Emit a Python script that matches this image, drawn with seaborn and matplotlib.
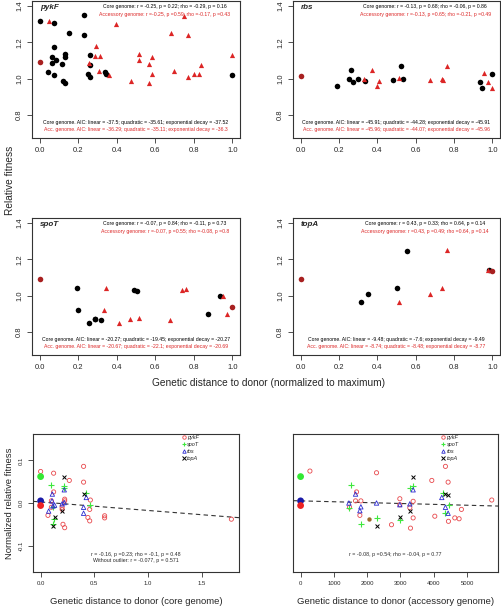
import numpy as np
import pandas as pd
import seaborn as sns
import matplotlib.pyplot as plt
from matplotlib.lines import Line2D

sns.set_style("white")
plt.rcParams['font.family'] = ['Liberation Sans', 'DejaVu Sans']
plt.rcParams['axes.unicode_minus'] = False

# ---- top panels: relative fitness vs normalized distance ----
pykf_core_x = [0.0, 0.073, 0.228, 0.154, 0.228, 0.073, 0.130, 0.130, 0.066, 0.083, 0.062, 0.118,
               0.263, 0.259, 0.045, 0.073, 0.252, 0.259, 0.340, 0.346, 0.121, 0.130, 1.0]
pykf_core_y = [1.317, 1.306, 1.352, 1.254, 1.238, 1.173, 1.138, 1.120, 1.120, 1.102, 1.084, 1.080,
               1.129, 1.073, 1.038, 1.018, 1.027, 1.009, 1.038, 1.027, 0.987, 0.975, 1.020]
pykf_acc_x = [0.048, 0.394, 0.290, 0.287, 0.314, 0.256, 0.307, 0.359, 0.475, 0.518, 0.518, 0.584,
              0.570, 0.584, 0.570, 0.684, 0.751, 0.769, 0.699, 0.769, 0.800, 0.825, 0.838, 1.0]
pykf_acc_y = [1.320, 1.302, 1.177, 1.123, 1.123, 1.088, 1.043, 1.020, 0.989, 1.138, 1.102, 1.120,
              1.080, 1.027, 0.973, 1.250, 1.347, 1.240, 1.039, 1.009, 1.027, 1.023, 1.075, 1.130]
pykf_both_x = [0.0]
pykf_both_y = [1.093]

rbs_core_x = [0.187, 0.260, 0.251, 0.272, 0.298, 0.336, 0.480, 0.523, 0.534, 0.936, 0.946, 1.0]
rbs_core_y = [0.957, 1.045, 1.000, 0.980, 1.000, 0.989, 0.993, 1.070, 1.000, 0.980, 0.946, 1.027]
rbs_acc_x = [0.333, 0.373, 0.407, 0.400, 0.513, 0.676, 0.738, 0.742, 0.761, 0.958, 0.977, 1.0]
rbs_acc_y = [1.000, 1.048, 0.984, 0.961, 1.002, 0.991, 1.000, 0.993, 1.071, 1.029, 0.980, 0.950]
rbs_both_x = [0.0]
rbs_both_y = [1.012]

spot_core_x = [0.195, 0.197, 0.257, 0.285, 0.285, 0.317, 0.489, 0.503, 0.935, 0.875]
spot_core_y = [1.042, 0.922, 0.846, 0.873, 0.868, 0.863, 1.033, 1.027, 0.995, 0.897]
spot_acc_x = [0.345, 0.333, 0.412, 0.468, 0.513, 0.674, 0.741, 0.760, 0.952, 0.974]
spot_acc_y = [1.042, 0.922, 0.846, 0.872, 0.877, 0.864, 1.029, 1.034, 0.996, 0.899]
spot_both_x = [0.0, 1.0]
spot_both_y = [1.092, 0.937]

topa_core_x = [0.315, 0.353, 0.503, 0.553, 0.984]
topa_core_y = [0.962, 1.011, 1.042, 1.248, 1.143]
topa_acc_x = [0.515, 0.676, 0.738, 0.761, 0.975]
topa_acc_y = [0.966, 1.011, 1.042, 1.250, 1.143]
topa_both_x = [0.0, 1.0]
topa_both_y = [1.089, 1.134]

genes = ["pykF", "rbs", "spoT", "topA"]
core_lines = ["Core genome: r = -0.25, p = 0.22; rho = -0.29, p = 0.16",
              "Core genome: r = -0.13, p = 0.68; rho = -0.06, p = 0.86",
              "Core genome: r = -0.07, p = 0.84; rho = -0.11, p = 0.73",
              "Core genome: r = 0.43, p = 0.33; rho = 0.64, p = 0.14"]
acc_lines = ["Accessory genome: r =-0.25, p =0.59; rho =-0.17, p =0.43",
             "Accessory genome: r =-0.13, p =0.65; rho =-0.21, p =0.49",
             "Accessory genome: r =-0.07, p =0.55; rho =-0.08, p =0.8",
             "Accessory genome: r =0.43, p =0.49; rho =0.64, p =0.14"]
core_aic = ["Core genome. AIC: linear = -37.5; quadratic = -35.61; exponential decay = -37.52",
            "Core genome. AIC: linear = -45.91; quadratic = -44.28; exponential decay = -45.91",
            "Core genome. AIC: linear = -20.27; quadratic = -19.45; exponential decay = -20.27",
            "Core genome. AIC: linear = -9.48; quadratic = -7.6; exponential decay = -9.49"]
acc_aic = ["Acc. genome. AIC: linear = -36.29; quadratic = -35.11; exponential decay = -36.3",
           "Acc. genome. AIC: linear = -45.96; quadratic = -44.07; exponential decay = -45.96",
           "Acc. genome. AIC: linear = -20.67; quadratic = -22.1; exponential decay = -20.69",
           "Acc. genome. AIC: linear = -8.74; quadratic = -8.48; exponential decay = -8.77"]

# ---- bottom panels: normalized fitness vs raw distance ----
pykf_cg_x = [0.0, 0.121, 0.40, 0.40, 0.267, 0.121, 0.463, 0.224, 0.224, 0.457, 0.068, 0.10, 0.20,
             0.20, 0.44, 0.457, 0.596, 0.596, 0.208, 0.224, 1.776, 0.10]
pykf_cg_y = [0.074, 0.070, 0.086, 0.049, 0.053, 0.026, 0.007, 0.009, 0.005, -0.015, -0.029, -0.010,
             -0.010, -0.015, -0.034, -0.042, -0.030, -0.035, -0.050, -0.058, -0.038, 0.005]
spot_cg_x = [0.10, 0.22, 0.22, 0.425, 0.457, 0.115, 0.121, 0.115]
spot_cg_y = [0.042, 0.039, 0.035, 0.023, -0.005, -0.009, -0.037, -0.050]
rbs_cg_x = [0.109, 0.22, 0.425, 0.40, 0.40, 0.075, 0.106, 0.13, 0.20, 0.22, 0.115]
rbs_cg_y = [0.021, 0.031, 0.013, -0.010, -0.024, -0.019, 0.005, -0.005, -0.002, 0.001, -0.007]
topa_cg_x = [0.22, 0.40, 0.13, 0.115, 0.199]
topa_cg_y = [0.061, 0.021, -0.034, -0.053, -0.018]

pykf_ag_x = [280, 2280, 4350, 3940, 4430, 1680, 1650, 1810, 2980, 3380, 2980, 3280, 5740, 4830,
             1470, 1780, 3380, 4030, 4630, 4760, 4440, 2730, 3300]
pykf_ag_y = [0.075, 0.071, 0.086, 0.053, 0.049, 0.026, 0.005, 0.005, 0.010, 0.004, -0.004, -0.011,
             0.007, -0.015, -0.010, -0.029, -0.035, -0.031, -0.035, -0.037, -0.043, -0.051, -0.059]
spot_ag_x = [1510, 3300, 3380, 4280, 4450, 1450, 4350, 2280, 2980, 1810]
spot_ag_y = [0.042, 0.036, 0.039, 0.023, -0.004, -0.012, -0.024, -0.035, -0.040, -0.049]
rbs_ag_x = [1650, 3380, 4240, 1450, 2280, 2980, 3280, 1810, 1780, 4350, 4430]
rbs_ag_y = [0.021, 0.031, 0.013, 0.000, 0.000, -0.004, -0.002, -0.009, -0.018, -0.010, -0.024]
topa_ag_x = [3380, 4350, 4430, 3280, 2980, 2280]
topa_ag_y = [0.061, 0.021, 0.018, -0.018, -0.032, -0.054]
mixed_ag_x = [2060]
mixed_ag_y = [-0.038]

ref_y = [0.062, 0.005, -0.006]          # reference strains at distance 0 (spoT, rbs, pykF)
ref_colors = ["#33e833", "#1a1aa8", "#ee2222"]

core_fit = (0.0025, -0.020)      # intercept, slope
acc_fit = (0.0050, -2.05e-6)

RED = "#dc2626"
DARKRED = "#a82020"
W, H = 501, 607

fig = plt.figure(figsize=(W / 100, H / 100), dpi=100)


def add_ax(x0, y0, x1, y1):
    return fig.add_axes([x0 / W, 1 - y1 / H, (x1 - x0) / W, (y1 - y0) / H])


def style(ax, size):
    for s in ax.spines.values():
        s.set_color("#333333")
        s.set_linewidth(0.8)
    ax.tick_params(direction="out", length=3.5, width=0.6, color="#333333",
                   labelsize=size, pad=3, left=True, bottom=True)
    for lab in ax.get_yticklabels():
        lab.set_rotation(90)
        lab.set_va("center")


top_boxes = [(32, 1, 240, 138), (293, 1, 500, 138), (32, 218, 240, 355), (293, 218, 500, 355)]
top_data = [(pykf_core_x, pykf_core_y, pykf_acc_x, pykf_acc_y, pykf_both_x, pykf_both_y),
            (rbs_core_x, rbs_core_y, rbs_acc_x, rbs_acc_y, rbs_both_x, rbs_both_y),
            (spot_core_x, spot_core_y, spot_acc_x, spot_acc_y, spot_both_x, spot_both_y),
            (topa_core_x, topa_core_y, topa_acc_x, topa_acc_y, topa_both_x, topa_both_y)]

for i, gene in enumerate(genes):
    ax = add_ax(*top_boxes[i])
    cx, cy, axx, ay, bx, by = top_data[i]
    sns.scatterplot(x=cx, y=cy, ax=ax, color="black", marker="o", s=16, linewidth=0)
    sns.scatterplot(x=axx, y=ay, ax=ax, color=RED, marker="^", s=14, linewidth=0)
    sns.scatterplot(x=bx, y=by, ax=ax, color=DARKRED, marker="o", s=16, linewidth=0)
    ax.set_xlim(-0.04, 1.04)
    ax.set_ylim(0.672, 1.428)
    ax.set_xticks([0, 0.2, 0.4, 0.6, 0.8, 1.0])
    ax.set_xticklabels(["0.0", "0.2", "0.4", "0.6", "0.8", "1.0"])
    ax.set_yticks([0.8, 1.0, 1.2, 1.4])
    ax.set_yticklabels(["0.8", "1.0", "1.2", "1.4"])
    style(ax, 5.5)
    ax.text(0.0, 1.392, gene, fontsize=5.8, fontweight="bold", style="italic", va="center")
    ax.text(0.65, 1.395, core_lines[i], fontsize=3.7, ha="center", va="center", color="black")
    ax.text(0.65, 1.352, acc_lines[i], fontsize=3.7, ha="center", va="center", color=RED)
    ax.text(0.5, 0.758, core_aic[i], fontsize=3.7, ha="center", va="center", color="black")
    ax.text(0.5, 0.72, acc_aic[i], fontsize=3.7, ha="center", va="center", color=RED)

fig.text(10 / W, 1 - 180 / H, "Relative fitness", rotation=90, fontsize=7.3, ha="center", va="center")
fig.text(268 / W, 1 - 383 / H, "Genetic distance to donor (normalized to maximum)", fontsize=7.3,
         ha="center", va="center")

# ---- bottom panels ----
bottom = [
    (add_ax(33, 434, 239, 572), (pykf_cg_x, pykf_cg_y), (spot_cg_x, spot_cg_y), (rbs_cg_x, rbs_cg_y),
     (topa_cg_x, topa_cg_y), core_fit, (-0.071, 1.847), [0, 0.5, 1.0, 1.5], ["0.0", "0.5", "1.0", "1.5"]),
    (add_ax(293, 434, 498, 572), (pykf_ag_x, pykf_ag_y), (spot_ag_x, spot_ag_y), (rbs_ag_x, rbs_ag_y),
     (topa_ag_x, topa_ag_y), acc_fit, (-228, 5928), [0, 1000, 2000, 3000, 4000, 5000],
     ["0", "1000", "2000", "3000", "4000", "5000"]),
]

for j, (ax, pk, sp, rb, tp, fit, xl, xt, xtl) in enumerate(bottom):
    b0, b1 = fit
    xs = np.array(xl)
    ax.plot(xs, b0 + b1 * xs, color="#333333", lw=0.8, ls=(0, (4, 3)), zorder=1)
    sns.scatterplot(x=pk[0], y=pk[1], ax=ax, marker="o", s=9, facecolors="none",
                    edgecolors="#e8484c", linewidth=0.6, zorder=3)
    sns.scatterplot(x=sp[0], y=sp[1], ax=ax, marker="+", s=14, color="#3ee83e", linewidth=0.8, zorder=3)
    sns.scatterplot(x=rb[0], y=rb[1], ax=ax, marker="^", s=10, facecolors="none",
                    edgecolors="#2a2ad0", linewidth=0.6, zorder=3)
    sns.scatterplot(x=tp[0], y=tp[1], ax=ax, marker="x", s=8, color="black", linewidth=0.7, zorder=3)
    sns.scatterplot(x=[0, 0, 0], y=ref_y, ax=ax, hue=[0, 1, 2], palette=ref_colors, s=24,
                    linewidth=0, legend=False, zorder=4)
    if j == 1:
        sns.scatterplot(x=mixed_ag_x, y=mixed_ag_y, ax=ax, color="#9c6a2a", s=10, linewidth=0, zorder=4)
    ax.set_xlim(*xl)
    ax.set_ylim(-0.162, 0.162)
    ax.set_xticks(xt)
    ax.set_xticklabels(xtl)
    if j == 0:
        ax.set_yticks([-0.1, 0.0, 0.1])
        ax.set_yticklabels(["-0.1", "0.0", "0.1"])
    else:
        ax.set_yticks([])
    style(ax, 4.3)
    if j == 1:
        ax.tick_params(left=False)
    handles = [
        Line2D([], [], ls="", marker="o", mfc="none", mec="#e8484c", ms=2.5, mew=0.6),
        Line2D([], [], ls="", marker="+", color="#3ee83e", ms=3, mew=0.8),
        Line2D([], [], ls="", marker="^", mfc="none", mec="#2a2ad0", ms=2.5, mew=0.6),
        Line2D([], [], ls="", marker="x", color="black", ms=2.5, mew=0.7),
    ]
    ax.legend(handles, ["pykF", "spoT", "rbs", "topA"], loc="upper left", bbox_to_anchor=(0.7, 1.02),
              frameon=False, prop={"size": 4, "style": "italic"}, handletextpad=0.1,
              labelspacing=0.35, borderpad=0.2, handlelength=1.0)

bottom[0][0].text(0.885, -0.12, "r = -0.16, p =0.23; rho = -0.1, p = 0.48", fontsize=3.8, ha="center",
                  va="center")
bottom[0][0].text(0.885, -0.134, "Without outlier: r = -0.077, p = 0.571", fontsize=3.8, ha="center",
                  va="center")
bottom[1][0].text(2850, -0.12, "r = -0.08, p =0.54; rho = -0.04, p = 0.77", fontsize=3.8, ha="center",
                  va="center")

fig.text(10 / W, 1 - 503 / H, "Normalized relative fitness", rotation=90, fontsize=6.8, ha="center",
         va="center")
fig.text(136 / W, 1 - 601 / H, "Genetic distance to donor (core genome)", fontsize=6.8, ha="center",
         va="center")
fig.text(396 / W, 1 - 601 / H, "Genetic distance to donor (accessory genome)", fontsize=6.8, ha="center",
         va="center")

fig.savefig("out.png", dpi=100)
